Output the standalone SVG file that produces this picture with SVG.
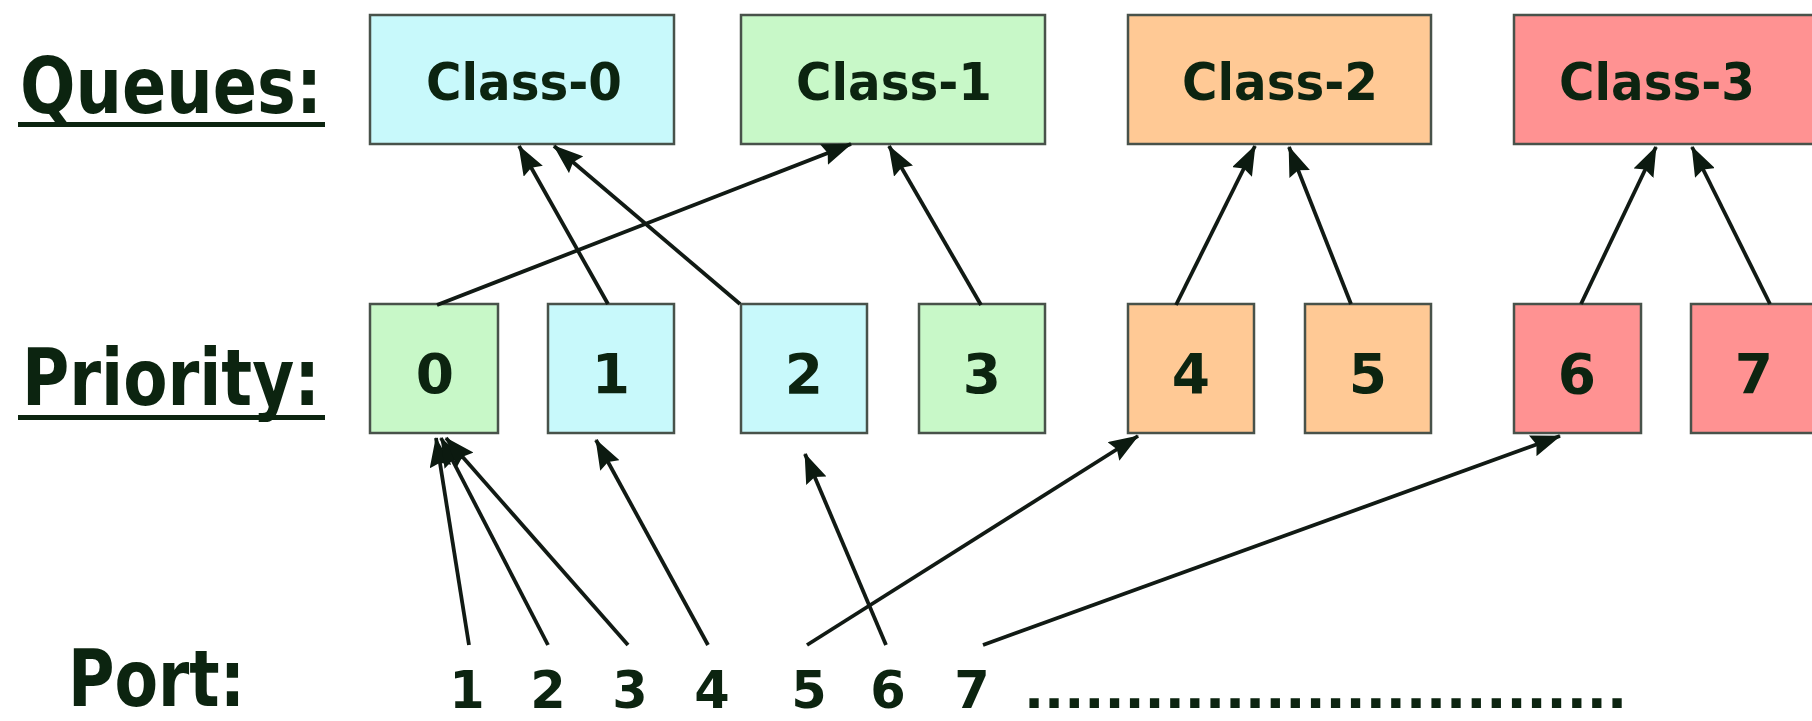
<svg xmlns="http://www.w3.org/2000/svg" width="1812" height="721" viewBox="0 0 1812 721">
<style>
.box{stroke:#48524a;stroke-width:2.5}
.cyan{fill:#c8f9fb}
.green{fill:#c8f8c8}
.orange{fill:#ffc995}
.red{fill:#ff9292}
.t{font-family:"DejaVu Sans",Verdana,sans-serif;font-weight:bold;fill:#0c2410}
.cls{font-size:51px;text-anchor:middle}
.dig{font-size:55px;text-anchor:middle}
.port{font-size:51px;text-anchor:middle}
.lbl{font-size:78px}
.conn line{stroke:#111a14;stroke-width:3.8;marker-end:url(#ah)}
</style>
<defs>
<marker id="ah" markerUnits="userSpaceOnUse" markerWidth="30" markerHeight="22" refX="29" refY="11" orient="auto">
<path d="M0,0 L30,11 L0,22 L4,11 z" fill="#0c1a10"/>
</marker>
</defs>
<rect width="1812" height="721" fill="#ffffff"/>

<g id="labels">
<text class="t lbl" x="20" y="113" textLength="302" lengthAdjust="spacingAndGlyphs">Queues:</text>
<rect x="18" y="122" width="307" height="5" fill="#0c2410"/>
<text class="t lbl" x="22" y="405" font-size="76" textLength="298" lengthAdjust="spacingAndGlyphs">Priority:</text>
<rect x="18" y="415" width="307" height="5" fill="#0c2410"/>
<text class="t lbl" x="68" y="706" font-size="68" textLength="177" lengthAdjust="spacingAndGlyphs">Port:</text>
</g>

<g id="class-0"><rect class="box cyan" x="370" y="15" width="304" height="129"/><text class="t cls" x="524" y="100" textLength="196" lengthAdjust="spacingAndGlyphs">Class-0</text></g>
<g id="class-1"><rect class="box green" x="741" y="15" width="304" height="129"/><text class="t cls" x="894" y="100" textLength="196" lengthAdjust="spacingAndGlyphs">Class-1</text></g>
<g id="class-2"><rect class="box orange" x="1128" y="15" width="303" height="129"/><text class="t cls" x="1280" y="100" textLength="196" lengthAdjust="spacingAndGlyphs">Class-2</text></g>
<g id="class-3"><rect class="box red" x="1514" y="15" width="310" height="129"/><text class="t cls" x="1657" y="100" textLength="196" lengthAdjust="spacingAndGlyphs">Class-3</text></g>

<g id="prio-0"><rect class="box green" x="370" y="304" width="128" height="129"/><text class="t dig" x="435" y="393">0</text></g>
<g id="prio-1"><rect class="box cyan" x="548" y="304" width="126" height="129"/><text class="t dig" x="611" y="393">1</text></g>
<g id="prio-2"><rect class="box cyan" x="741" y="304" width="126" height="129"/><text class="t dig" x="804" y="393">2</text></g>
<g id="prio-3"><rect class="box green" x="919" y="304" width="126" height="129"/><text class="t dig" x="982" y="393">3</text></g>
<g id="prio-4"><rect class="box orange" x="1128" y="304" width="126" height="129"/><text class="t dig" x="1191" y="393">4</text></g>
<g id="prio-5"><rect class="box orange" x="1305" y="304" width="126" height="129"/><text class="t dig" x="1368" y="393">5</text></g>
<g id="prio-6"><rect class="box red" x="1514" y="304" width="127" height="129"/><text class="t dig" x="1577" y="393">6</text></g>
<g id="prio-7"><rect class="box red" x="1691" y="304" width="127" height="129"/><text class="t dig" x="1754" y="393">7</text></g>

<g id="ports">
<text class="t port" x="467" y="708">1</text>
<text class="t port" x="548" y="708">2</text>
<text class="t port" x="630" y="708">3</text>
<text class="t port" x="712" y="708">4</text>
<text class="t port" x="809" y="708">5</text>
<text class="t port" x="888" y="708">6</text>
<text class="t port" x="972" y="708">7</text>
<text class="t" x="1024" y="708" font-size="52" textLength="603" lengthAdjust="spacingAndGlyphs">..............................</text>
</g>

<g id="connectors" class="conn">
<line x1="437" y1="305" x2="851" y2="144"/>
<line x1="608" y1="304" x2="519" y2="146"/>
<line x1="740" y1="304" x2="554" y2="146"/>
<line x1="981" y1="305" x2="889" y2="146"/>
<line x1="1176" y1="305" x2="1255" y2="146"/>
<line x1="1351" y1="304" x2="1289" y2="147"/>
<line x1="1581" y1="304" x2="1656" y2="147"/>
<line x1="1770" y1="304" x2="1692" y2="147"/>
<line x1="469" y1="645" x2="436" y2="438"/>
<line x1="548" y1="645" x2="441" y2="438"/>
<line x1="628" y1="645" x2="446" y2="438"/>
<line x1="708" y1="645" x2="596" y2="440"/>
<line x1="807" y1="645" x2="1138" y2="436"/>
<line x1="886" y1="645" x2="805" y2="454"/>
<line x1="983" y1="645" x2="1560" y2="436"/>
</g>
</svg>
